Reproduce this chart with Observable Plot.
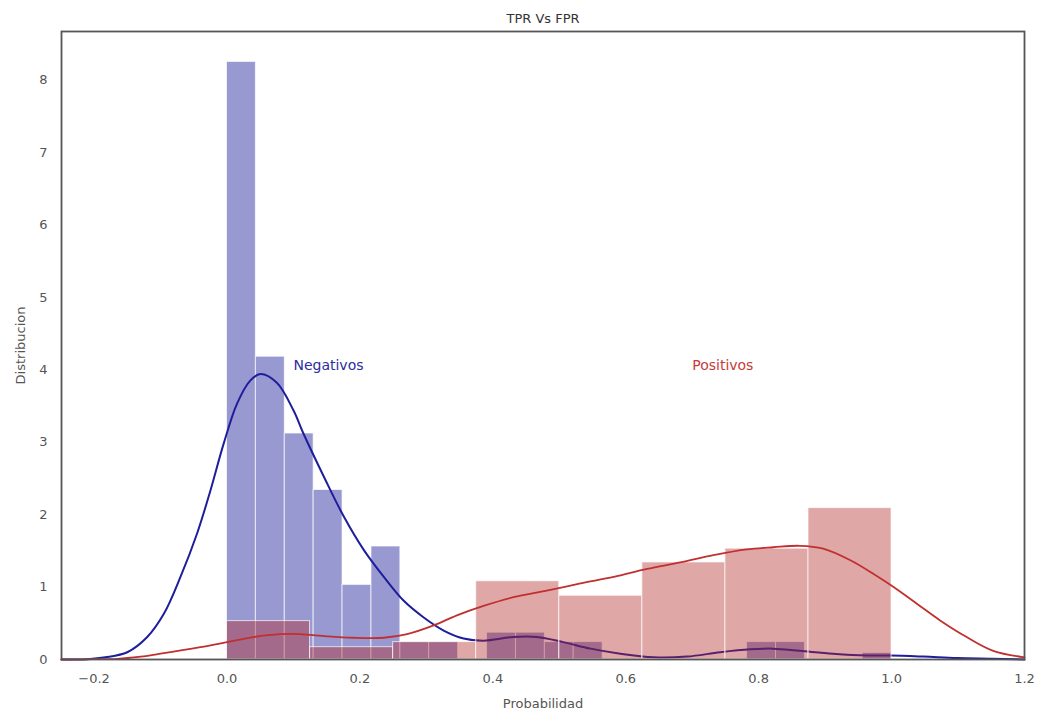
<!DOCTYPE html>
<html>
<head>
<meta charset="utf-8">
<script src="https://cdn.jsdelivr.net/npm/d3@7"></script>
<script src="https://cdn.jsdelivr.net/npm/@observablehq/plot@0.6"></script>
<style>
  html, body { margin: 0; padding: 0; background: #fff; }
  #chart { width: 1042px; height: 715px; }
</style>
</head>
<body>
<div id="chart"></div>
<script>
// ---- Data ----
const title = "TPR Vs FPR";
const xLabel = "Probabilidad";
const yLabel = "Distribucion";
const xTicks = [-0.2, 0.0, 0.2, 0.4, 0.6, 0.8, 1.0, 1.2];
const yTicks = [0, 1, 2, 3, 4, 5, 6, 7, 8];

// Negatives histogram (density) : 23 bins between 0 and 1
const negEdges = [0, 0.0435, 0.0870, 0.1304, 0.1739, 0.2174, 0.2609, 0.3043, 0.3478, 0.3913,
  0.4348, 0.4783, 0.5217, 0.5652, 0.6087, 0.6522, 0.6957, 0.7391, 0.7826, 0.8261,
  0.8696, 0.9130, 0.9565, 1.0];
const negHeights = [8.25, 4.18, 3.12, 2.34, 1.03, 1.56, 0.24, 0.24, 0, 0.37, 0.37, 0.24, 0.24,
  0, 0, 0, 0, 0, 0.24, 0.24, 0, 0, 0.09];

// Positives histogram (density) : 8 bins between 0 and 1
const posEdges = [0, 0.125, 0.25, 0.375, 0.5, 0.625, 0.75, 0.875, 1.0];
const posHeights = [0.53, 0.17, 0.24, 1.08, 0.88, 1.34, 1.53, 2.09];

// KDE curves
const negKdeX = [-0.249, -0.21, -0.183, -0.15, -0.12, -0.095, -0.07, -0.045, -0.025, -0.005, 0.015, 0.035,
  0.05, 0.075, 0.1, 0.115, 0.146, 0.176, 0.206, 0.236, 0.266, 0.296, 0.326, 0.356, 0.386, 0.431,
  0.466, 0.506, 0.547, 0.592, 0.642, 0.692, 0.742, 0.787, 0.822, 0.862, 0.912, 0.963, 0.998,
  1.048, 1.098, 1.15, 1.2];
const negKdeY = [0.0, 0.005, 0.03, 0.1, 0.31, 0.63, 1.14, 1.74, 2.33, 2.98, 3.53, 3.85,
  3.94, 3.82, 3.44, 3.12, 2.52, 1.97, 1.51, 1.14, 0.81, 0.58, 0.40, 0.29, 0.26, 0.31,
  0.31, 0.24, 0.15, 0.08, 0.03, 0.04, 0.10, 0.14, 0.15, 0.12, 0.08, 0.055, 0.055,
  0.04, 0.02, 0.01, 0.0];

const posKdeX = [-0.249, -0.2, -0.165, -0.13, -0.1, -0.04, 0.0, 0.04, 0.08, 0.11, 0.15, 0.19, 0.236,
  0.271, 0.311, 0.346, 0.386, 0.431, 0.481, 0.532, 0.582, 0.632, 0.682, 0.732, 0.782, 0.822,
  0.862, 0.897, 0.938, 0.973, 1.003, 1.038, 1.073, 1.113, 1.153, 1.2];
const posKdeY = [0.0, 0.005, 0.01, 0.04, 0.08, 0.17, 0.24, 0.31, 0.35, 0.35, 0.32, 0.30, 0.30,
  0.35, 0.47, 0.61, 0.74, 0.86, 0.95, 1.05, 1.14, 1.25, 1.34, 1.44, 1.52, 1.55,
  1.57, 1.53, 1.37, 1.18, 1.00, 0.77, 0.54, 0.31, 0.12, 0.03];

const annotations = [
  {x: 0.1, y: 4.0, text: "Negativos", color: "#2b2ba3"},
  {x: 0.7, y: 4.0, text: "Positivos", color: "#c83a3a"}
];

// ---- Build tables ----
const negBins = negHeights.map((h, i) => ({x1: negEdges[i], x2: negEdges[i + 1], y: h}));
const posBins = posHeights.map((h, i) => ({x1: posEdges[i], x2: posEdges[i + 1], y: h}));
const negKde = negKdeX.map((x, i) => ({x, y: negKdeY[i]}));
const posKde = posKdeX.map((x, i) => ({x, y: posKdeY[i]}));

const blueFill = "darkblue";
const redFill = "firebrick";

const chart = Plot.plot({
  width: 1042,
  height: 715,
  marginLeft: 61,
  marginRight: 18,
  marginTop: 31,
  marginBottom: 56,
  style: {fontFamily: "'DejaVu Sans', sans-serif", fontSize: "13px", color: "#444", background: "#fff"},
  x: {domain: [-0.249, 1.2]},
  y: {domain: [0, 8.67]},
  marks: [
    Plot.rectY(negBins.filter(d => d.y > 0), {x1: "x1", x2: "x2", y: "y", fill: blueFill, fillOpacity: 0.4,
      stroke: "white", strokeWidth: 1, strokeOpacity: 0.7, inset: 0}),
    Plot.line(negKde, {x: "x", y: "y", stroke: "#1e1e9c", strokeWidth: 2, curve: "catmull-rom"}),
    Plot.rectY(posBins, {x1: "x1", x2: "x2", y: "y", fill: redFill, fillOpacity: 0.4,
      stroke: "white", strokeWidth: 1, strokeOpacity: 0.7, inset: 0}),
    Plot.line(posKde, {x: "x", y: "y", stroke: "#c03030", strokeWidth: 1.8, curve: "catmull-rom"}),
    Plot.text(annotations, {x: "x", y: "y", text: "text", fill: "color", textAnchor: "start",
      lineAnchor: "bottom", fontSize: 14, dy: 0}),
    Plot.frame({stroke: "#555", strokeWidth: 1.8}),
    Plot.axisX({ticks: xTicks, tickSize: 0, tickPadding: 14, tickFormat: d => d.toFixed(1).replace("-", "\u2212"),
      label: xLabel, labelAnchor: "center", labelArrow: "none", labelOffset: 48, fontSize: 13, fill: "#555"}),
    Plot.axisY({ticks: yTicks, tickSize: 0, tickPadding: 14, tickFormat: d => String(d),
      label: yLabel, labelAnchor: "center", labelArrow: "none", labelOffset: 46, fontSize: 13, fill: "#555"}),
    Plot.text([title], {frameAnchor: "top", dy: -13, fontSize: 13, fill: "#333", lineAnchor: "middle"})
  ]
});
document.getElementById("chart").appendChild(chart);
</script>
</body>
</html>
